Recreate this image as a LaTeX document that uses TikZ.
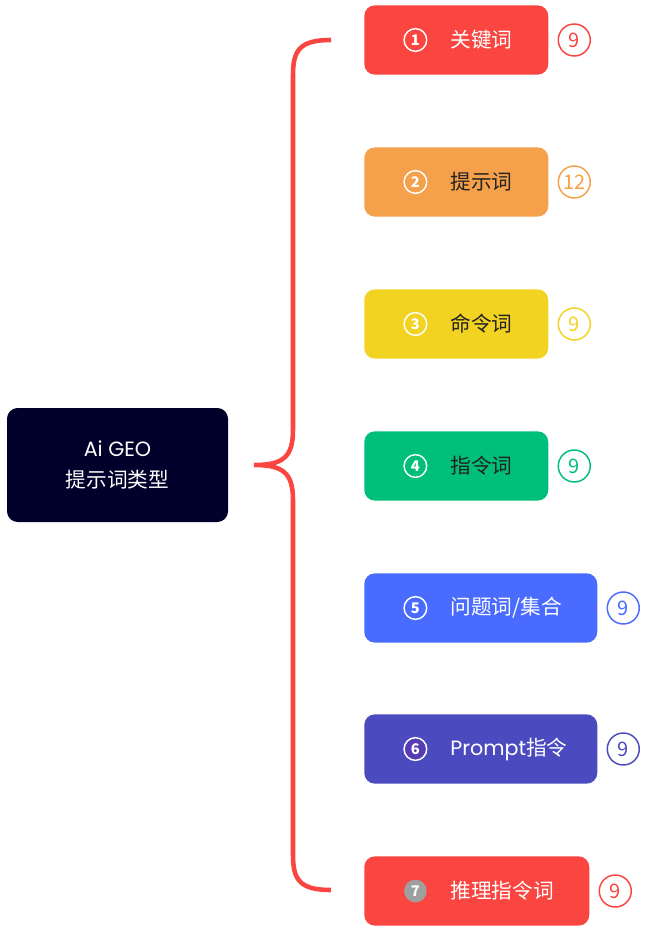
\documentclass[tikz,border=0pt]{standalone}
\usepackage{fontspec}
\setmainfont{Noto Sans CJK SC}
\newfontfamily\latn{Poppins}
\usetikzlibrary{positioning}
\definecolor{geored}{HTML}{FA4540}
\definecolor{geoorange}{HTML}{F5A04B}
\definecolor{geoyellow}{HTML}{F2D322}
\definecolor{geogreen}{HTML}{00BF7B}
\definecolor{geoblue}{HTML}{4A6BFF}
\definecolor{geoindigo}{HTML}{4B4BBF}
\definecolor{geonavy}{HTML}{00002B}
\definecolor{geoink}{HTML}{222222}
\tikzset{
  rootbox/.style={rectangle, rounded corners=8pt, fill=geonavy, text=white,
    minimum width=165.75pt, minimum height=85.5pt, align=center,
    font=\fontsize{15.5}{23}\selectfont},
  kwbox/.style={rectangle, rounded corners=8pt, fill=#1, minimum height=52pt,
    anchor=west, inner sep=0pt},
  digit/.style={circle, draw=white, line width=1.1pt, fill=#1, text=white,
    minimum size=17pt, inner sep=0pt, font=\fontsize{11}{11}\selectfont\bfseries},
  kwtext/.style={inner sep=0pt, text=#1, font=\fontsize{15.5}{17}\selectfont},
  count/.style={circle, draw=#1, line width=1.1pt, fill=white, text=#1,
    minimum size=24pt, inner sep=0pt, font=\fontsize{15}{15}\selectfont},
}
\begin{document}
\begin{tikzpicture}[x=0.75pt, y=-0.75pt]
    \useasboundingbox (0,0) rectangle (649,937);
    % root of the mind map
    \node[rootbox] (root) at (117.5,465) {{\latn Ai GEO}\\提示词类型};
    % the big brace
    \coordinate (bracetop) at (331,40);
    \coordinate (bracetip) at (254,465);
    \coordinate (bracebot) at (331,890);
    \draw[geored, line width=3.4pt]
      (bracetop) .. controls (300,40) and (293,50) .. (293,75)
      -- (293,430) .. controls (293,458) and (282,465) .. (bracetip)
      .. controls (282,465) and (293,472) .. (293,500)
      -- (293,855) .. controls (293,880) and (300,890) .. (bracebot);
    % 1
    \node[kwbox=geored, minimum width=138pt] (k1) at (364,40) {};
    \node[digit=geored, right=29.5pt of k1.west] (k1n) {1};
    \node[kwtext=white, right=17pt of k1n] (k1t) {关键词};
    \node[count=geored, right=6.75pt of k1] (k1c) {9};
    % 2
    \node[kwbox=geoorange, minimum width=138pt] (k2) at (364,182) {};
    \node[digit=geoorange, right=29.5pt of k2.west] (k2n) {2};
    \node[kwtext=geoink, right=17pt of k2n] (k2t) {提示词};
    \node[count=geoorange, right=6.75pt of k2] (k2c) {12};
    % 3
    \node[kwbox=geoyellow, minimum width=138pt] (k3) at (364,324) {};
    \node[digit=geoyellow, right=29.5pt of k3.west] (k3n) {3};
    \node[kwtext=geoink, right=17pt of k3n] (k3t) {命令词};
    \node[count=geoyellow, right=6.75pt of k3] (k3c) {9};
    % 4
    \node[kwbox=geogreen, minimum width=138pt] (k4) at (364,466) {};
    \node[digit=geogreen, right=29.5pt of k4.west] (k4n) {4};
    \node[kwtext=geoink, right=17pt of k4n] (k4t) {指令词};
    \node[count=geogreen, right=6.75pt of k4] (k4c) {9};
    % 5
    \node[kwbox=geoblue, minimum width=174.75pt] (k5) at (364,608) {};
    \node[digit=geoblue, right=29.5pt of k5.west] (k5n) {5};
    \node[kwtext=white, right=17pt of k5n] (k5t) {问题词/集合};
    \node[count=geoblue, right=6.75pt of k5] (k5c) {9};
    % 6
    \node[kwbox=geoindigo, minimum width=174.75pt] (k6) at (364,749) {};
    \node[digit=geoindigo!80!violet, right=29.5pt of k6.west] (k6n) {6};
    \node[kwtext=white, right=17pt of k6n] (k6t) {{\latn Prompt}指令};
    \node[count=geoindigo, right=6.75pt of k6] (k6c) {9};
    % 7
    \node[kwbox=geored, minimum width=168.75pt] (k7) at (364,891) {};
    \node[digit=gray!75, draw=none, right=29.5pt of k7.west] (k7n) {7};
    \node[kwtext=white, right=17pt of k7n] (k7t) {推理指令词};
    \node[count=geored, right=6.75pt of k7] (k7c) {9};
\end{tikzpicture}
\end{document}
